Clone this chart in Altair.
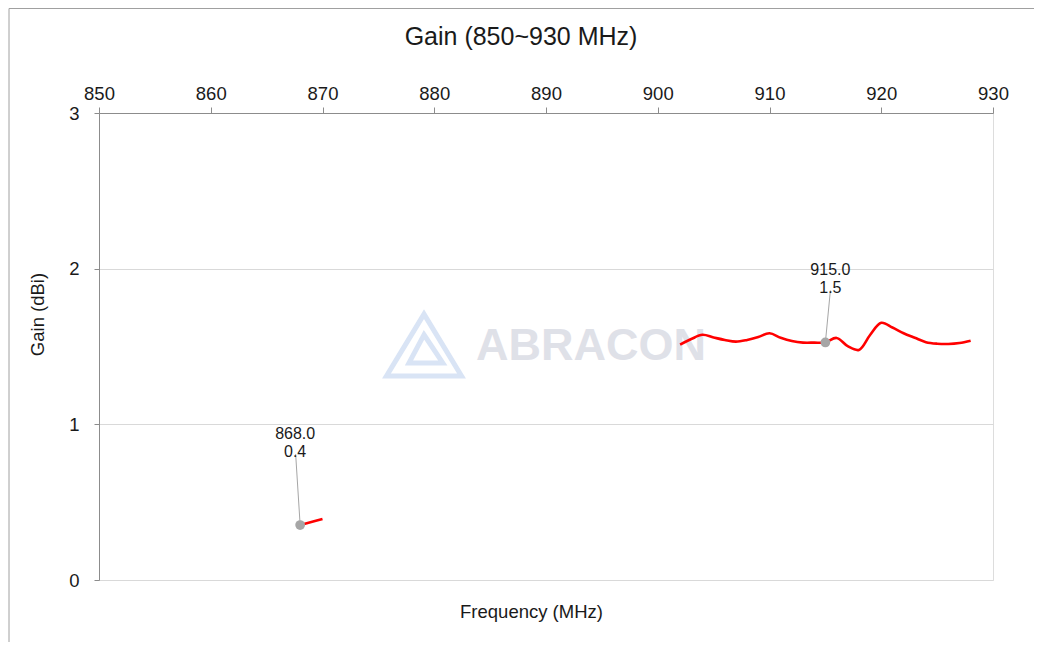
import altair as alt
import pandas as pd

# ---- data ----
low_freq = [868, 869, 870]
low_gain = [0.353, 0.372, 0.392]

high_freq = list(range(902, 929))
high_gain = [1.512, 1.548, 1.575, 1.558, 1.542, 1.531, 1.542, 1.561, 1.585, 1.556,
             1.535, 1.525, 1.525, 1.526, 1.555, 1.502, 1.478, 1.574, 1.652, 1.622,
             1.585, 1.556, 1.528, 1.518, 1.516, 1.522, 1.537]

ann_freq = [868.0, 915.0]
ann_gain = [0.353, 1.526]
ann_text = ["868.0\n0.4", "915.0\n1.5"]

x_ticks = [850, 860, 870, 880, 890, 900, 910, 920, 930]
y_ticks = [0, 1, 2, 3]

chart_title = "Gain (850~930 MHz)"

FONT = "Liberation Sans"
AXIS_GRAY = "#8c8c8c"
TEXT = "#1a1a1a"

line_df = pd.DataFrame({
    "freq": low_freq + high_freq,
    "gain": low_gain + high_gain,
    "segment": ["low"] * len(low_freq) + ["high"] * len(high_freq),
})
ann_df = pd.DataFrame({"freq": ann_freq, "gain": ann_gain, "text": ann_text,
                       "idx": [0, 1]})

x_enc = alt.X(
    "freq:Q",
    scale=alt.Scale(domain=[850, 930], nice=False, zero=False),
    axis=alt.Axis(
        orient="top", values=x_ticks, grid=False, format="d", labelFlush=False,
        tickSize=6, labelPadding=4, labelFontSize=18.5, labelFont=FONT,
        labelColor=TEXT, domainColor=AXIS_GRAY, tickColor=AXIS_GRAY,
        title="Frequency (MHz)", titleFont=FONT, titleFontSize=18.5,
        titleFontWeight="normal", titleColor=TEXT,
        titleX=432, titleY=498, titleAlign="center", titleBaseline="middle",
    ),
)
y_enc = alt.Y(
    "gain:Q",
    scale=alt.Scale(domain=[0, 3], nice=False),
    axis=alt.Axis(
        values=y_ticks, grid=True, gridColor="#d9d9d9", format="d", labelFlush=False,
        tickSize=5, labelPadding=15, labelFontSize=18.5, labelFont=FONT,
        labelColor=TEXT, domainColor=AXIS_GRAY, tickColor=AXIS_GRAY,
        title="Gain (dBi)", titleFont=FONT, titleFontSize=18.5,
        titleFontWeight="normal", titleColor=TEXT,
        titleX=-62, titleY=201, titleAlign="center", titleBaseline="middle",
    ),
)

base = alt.Chart(line_df)

lines = base.mark_line(color="#ff0000", strokeWidth=2.6,
                       interpolate="catmull-rom").encode(
    x=x_enc, y=y_enc, detail="segment:N"
)

# watermark
wm_df = pd.DataFrame({"t": ["ABRACON"]})
wm_text = alt.Chart(wm_df).mark_text(
    font=FONT, fontSize=45, fontWeight="bold", color="#dfe1e8",
    align="center", baseline="middle"
).encode(x=alt.value(492), y=alt.value(233), text="t:N")
logo_outer = alt.Chart(wm_df).mark_point(
    shape="M0,-0.85L1,0.8L-1,0.8Z", filled=False, stroke="#d9e4f5",
    strokeWidth=5, size=5625, opacity=1
).encode(x=alt.value(325), y=alt.value(233))
logo_inner = alt.Chart(wm_df).mark_point(
    shape="M0,-0.3L0.5,0.45L-0.4,0.45Z", filled=False, stroke="#d9e4f5",
    strokeWidth=5, size=5625, opacity=1
).encode(x=alt.value(325), y=alt.value(233))

# title
title_df = pd.DataFrame({"t": [chart_title]})
title_mark = alt.Chart(title_df).mark_text(
    font=FONT, fontSize=25, color=TEXT, align="center", baseline="middle"
).encode(x=alt.value(422), y=alt.value(-76), text="t:N")

# outer chart frame (left and top edges visible in reference)
frame_df = pd.DataFrame({"k": [0]})
frame_left = alt.Chart(frame_df).mark_rule(color="#a0a0a0", strokeWidth=1).encode(
    x=alt.value(-90), x2=alt.value(-90), y=alt.value(-104.5), y2=alt.value(540))
frame_top = alt.Chart(frame_df).mark_rule(color="#a0a0a0", strokeWidth=1).encode(
    x=alt.value(-90), x2=alt.value(950), y=alt.value(-104.5), y2=alt.value(-104.5))

# annotations
ann = alt.Chart(ann_df)
leader0 = ann.transform_filter("datum.idx == 0").mark_rule(
    color="#a6a6a6", strokeWidth=1, x2Offset=-4.5, y2Offset=-71
).encode(x="freq:Q", y="gain:Q", x2="freq:Q", y2="gain:Q")
leader1 = ann.transform_filter("datum.idx == 1").mark_rule(
    color="#a6a6a6", strokeWidth=1, x2Offset=5, y2Offset=-52
).encode(x="freq:Q", y="gain:Q", x2="freq:Q", y2="gain:Q")
label0 = ann.transform_filter("datum.idx == 0").mark_text(
    font=FONT, fontSize=16, color=TEXT, lineBreak="\n", lineHeight=17.5,
    align="center", baseline="middle", dx=-5, dy=-91
).encode(x="freq:Q", y="gain:Q", text="text:N")
label1 = ann.transform_filter("datum.idx == 1").mark_text(
    font=FONT, fontSize=16, color=TEXT, lineBreak="\n", lineHeight=17.5,
    align="center", baseline="middle", dx=5, dy=-72
).encode(x="freq:Q", y="gain:Q", text="text:N")
markers = ann.mark_point(filled=True, color="#a6a6a6", size=95, opacity=1).encode(
    x="freq:Q", y="gain:Q")

chart = alt.layer(
    logo_outer, logo_inner, wm_text, lines, leader0, leader1, markers, label0, label1,
    title_mark, frame_left, frame_top,
).properties(
    width=894, height=467,
    autosize=alt.AutoSizeParams(type="none"),
    padding={"left": 91, "top": 105, "right": 41, "bottom": 62},
).configure_view(stroke="transparent").configure(background="white")

chart.save("out.html", embed_options={"renderer": "svg", "actions": False})
